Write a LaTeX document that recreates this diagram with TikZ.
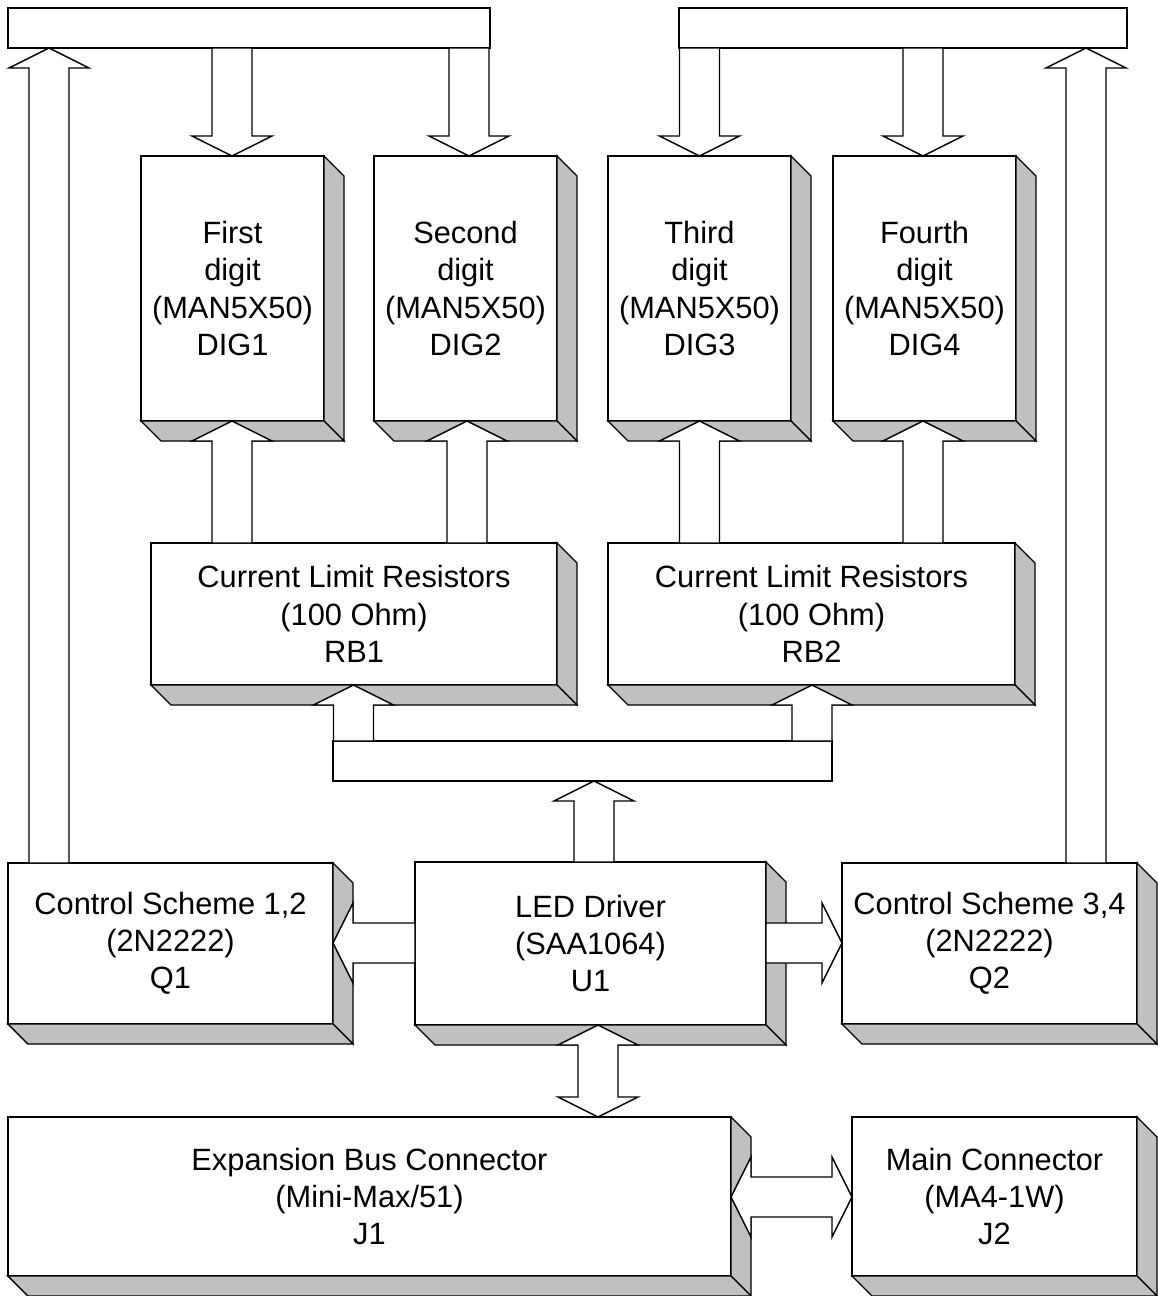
\documentclass[tikz,border=0pt]{standalone}
\usepackage{fontspec}
\setmainfont{Liberation Sans}
\usetikzlibrary{calc}
\definecolor{sidegray}{HTML}{C0C0C0}

% raised look: grey side and bottom faces, 20 units deep
\newcommand{\boxshadow}[1]{%
  \filldraw[side] (#1.north east) -- ++(20,20) -- ($(#1.south east)+(20,20)$) -- (#1.south east) -- cycle;
  \filldraw[side] (#1.south west) -- (#1.south east) -- ++(20,20) -- ($(#1.south west)+(20,20)$) -- cycle;}
% fat vertical arrow: x, tail anchor, tip anchor, 1 = up / -1 = down
\newcommand{\vfat}[4]{%
  \path ({#1},0 |- #2) coordinate (ft) ({#1},0 |- #3) coordinate (fp);
  \draw[fat] ($(ft)+(-20,0)$) -- ($(fp)+(-20,{#4*20})$) -- ($(fp)+(-40,{#4*20})$) -- (fp)
    -- ($(fp)+(40,{#4*20})$) -- ($(fp)+(20,{#4*20})$) -- ($(ft)+(20,0)$) -- cycle;}
% fat horizontal arrow: y, tail anchor, tip anchor, 1 = left / -1 = right
\newcommand{\hfat}[4]{%
  \path (#2 |- 0,{#1}) coordinate (ft) (#3 |- 0,{#1}) coordinate (fp);
  \draw[fat] ($(ft)+(0,-20)$) -- ($(fp)+({#4*20},-20)$) -- ($(fp)+({#4*20},-40)$) -- (fp)
    -- ($(fp)+({#4*20},40)$) -- ($(fp)+({#4*20},20)$) -- ($(ft)+(0,20)$) -- cycle;}
% two-headed versions
\newcommand{\vfatboth}[3]{%
  \path ({#1},0 |- #2) coordinate (fp) ({#1},0 |- #3) coordinate (fq);
  \draw[fat] (fp) -- ($(fp)+(40,20)$) -- ($(fp)+(20,20)$) -- ($(fq)+(20,-20)$) -- ($(fq)+(40,-20)$) -- (fq)
    -- ($(fq)+(-40,-20)$) -- ($(fq)+(-20,-20)$) -- ($(fp)+(-20,20)$) -- ($(fp)+(-40,20)$) -- cycle;}
\newcommand{\hfatboth}[3]{%
  \path (#2 |- 0,{#1}) coordinate (fp) (#3 |- 0,{#1}) coordinate (fq);
  \draw[fat] (fp) -- ($(fp)+(20,-40)$) -- ($(fp)+(20,-20)$) -- ($(fq)+(-20,-20)$) -- ($(fq)+(-20,-40)$) -- (fq)
    -- ($(fq)+(-20,40)$) -- ($(fq)+(-20,20)$) -- ($(fp)+(20,20)$) -- ($(fp)+(20,40)$) -- cycle;}

\begin{document}
\begin{tikzpicture}[x=0.5pt,y=-0.5pt,
  blk/.style={draw,fill=white,line width=.7pt,inner sep=0pt,outer sep=0pt,align=center,
    font=\fontsize{15.4}{18.6}\selectfont},
  dig/.style={blk,minimum width=91.5pt,minimum height=132.5pt},
  res/.style={blk,minimum height=71pt},
  bus/.style={draw,fill=white,line width=.7pt,inner sep=0pt,outer sep=0pt,minimum height=20pt},
  side/.style={draw,fill=sidegray,line width=.7pt},
  fat/.style={draw,fill=white,line width=.7pt}]
 \useasboundingbox (0,0) rectangle (1157,1296);
 % buses
 \node[bus,minimum width=241pt] (busl) at (249,28) {};
 \node[bus,minimum width=224pt] (busr) at (903,28) {};
 \node[bus,minimum width=249.5pt] (busm) at (582.5,761) {};
 % displays
 \node[dig] (dig1) at (232.5,288.5) {First\\digit\\(MAN5X50)\\DIG1};
 \node[dig] (dig2) at (465.5,288.5) {Second\\digit\\(MAN5X50)\\DIG2};
 \node[dig] (dig3) at (699.5,288.5) {Third\\digit\\(MAN5X50)\\DIG3};
 \node[dig] (dig4) at (924.5,288.5) {Fourth\\digit\\(MAN5X50)\\DIG4};
 \node[res,minimum width=203pt] (rb1) at (354,614) {Current Limit Resistors\\(100 Ohm)\\RB1};
 \node[res,minimum width=203.5pt] (rb2) at (811.5,614) {Current Limit Resistors\\(100 Ohm)\\RB2};
 % drivers
 \node[blk,minimum width=162.5pt,minimum height=80.5pt] (q1) at (170.5,943.5) {Control Scheme 1,2\\(2N2222)\\Q1};
 \node[blk,minimum width=175.5pt,minimum height=81.5pt] (u1) at (590.5,943.5) {LED Driver\\(SAA1064)\\U1};
 \node[blk,minimum width=147.5pt,minimum height=80.5pt] (q2) at (989.5,943.5) {Control Scheme 3,4\\(2N2222)\\Q2};
 % connectors
 \node[blk,minimum width=361.5pt,minimum height=79.5pt] (j1) at (369.5,1196.5) {Expansion Bus Connector\\(Mini-Max/51)\\J1};
 \node[blk,minimum width=142.5pt,minimum height=79.5pt] (j2) at (994.5,1196.5) {Main Connector\\(MA4-1W)\\J2};
 \foreach \n in {dig1,dig2,dig3,dig4,rb1,rb2,q1,u1,q2,j1,j2} \boxshadow{\n};

 \vfat{232}{busl.south}{dig1.north}{-1}
 \vfat{469}{busl.south}{dig2.north}{-1}
 \vfat{699.5}{busr.south}{dig3.north}{-1}
 \vfat{923}{busr.south}{dig4.north}{-1}
 \vfat{232}{rb1.north}{dig1.south}{1}
 \vfat{467}{rb1.north}{dig2.south}{1}
 \vfat{699.5}{rb2.north}{dig3.south}{1}
 \vfat{923}{rb2.north}{dig4.south}{1}
 \vfat{353.5}{busm.north}{rb1.south}{1}
 \vfat{812}{busm.north}{rb2.south}{1}
 \vfat{594}{u1.north}{busm.south}{1}
 \vfat{49}{q1.north}{busl.south}{1}
 \vfat{1086}{q2.north}{busr.south}{1}
 \hfat{943}{u1.west}{q1.east}{1}
 \hfat{943}{u1.east}{q2.west}{-1}
 \vfatboth{598}{u1.south}{j1.north}
 \hfatboth{1197}{j1.east}{j2.west}
\end{tikzpicture}
\end{document}
